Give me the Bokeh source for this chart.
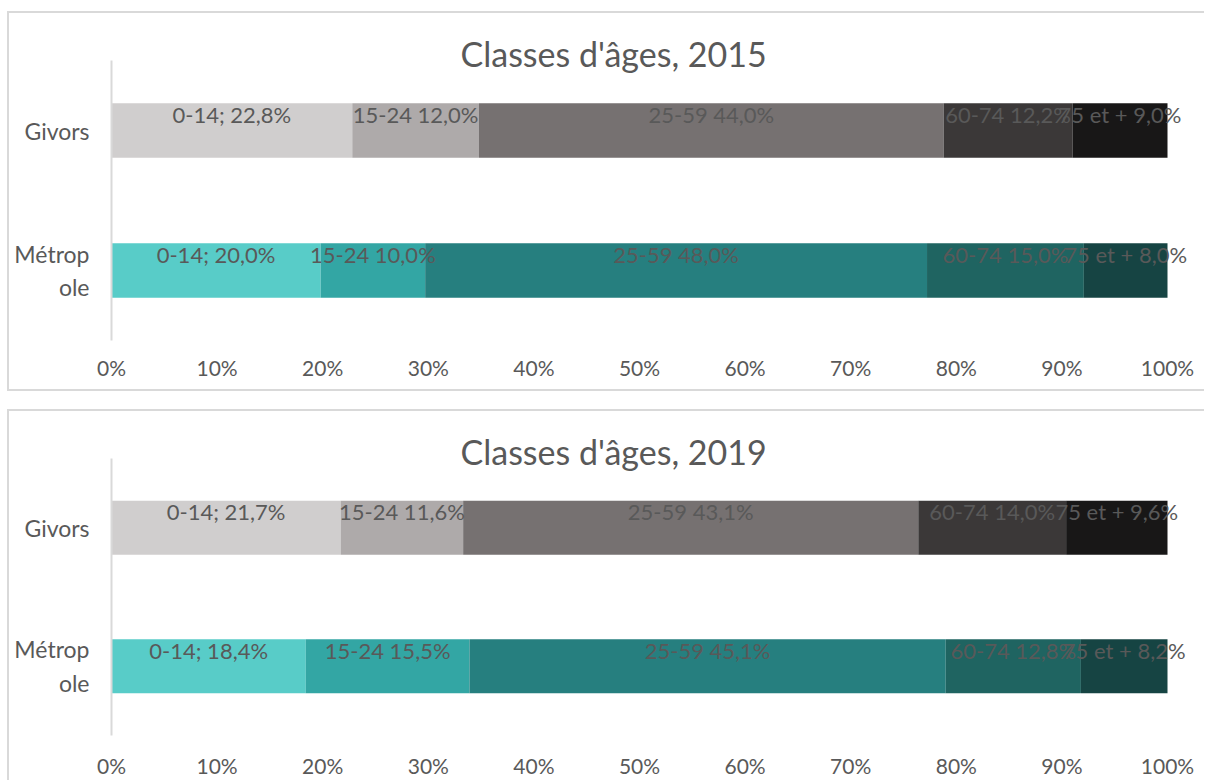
from bokeh.plotting import figure
from bokeh.models import (ColumnDataSource, FactorRange, Range1d, FixedTicker,
                          NumeralTickFormatter, CustomJSTickFormatter)
from bokeh.layouts import column
from bokeh.core.properties import value
from bokeh.embed import file_html
from bokeh.resources import INLINE

# ---------------- data ----------------
categories = ["Givors", "Métropole"]
age_classes = ["0-14", "15-24", "25-59", "60-74", "75 et +"]

givors_2015 = [22.8, 12.0, 44.0, 12.2, 9.0]
metropole_2015 = [20.0, 10.0, 48.0, 15.0, 8.0]
givors_2019 = [21.7, 11.6, 43.1, 14.0, 9.6]
metropole_2019 = [18.4, 15.5, 45.1, 12.8, 8.2]

x_ticks = [0.0, 0.1, 0.2, 0.3, 0.4, 0.5, 0.6, 0.7, 0.8, 0.9, 1.0]

givors_colors = ["#D0CECE", "#AEAAAA", "#767171", "#3B3838", "#181717"]
metropole_colors = ["#58CCC8", "#33A6A4", "#267F7F", "#1F6461", "#164443"]

FONT = "Lato"
TXT = "#595959"
BC = "#d9d9d9"
# panel frame drawn outside the figure box: left, top (and bottom for the first panel)
STYLE_TOP_PANEL = {"overflow": "hidden",
                   "box-shadow": f"-2px 0 0 0 {BC}, 0 -2px 0 0 {BC}, -2px -2px 0 0 {BC}, "
                                 f"0 2px 0 0 {BC}, -2px 2px 0 0 {BC}"}
STYLE_BOTTOM_PANEL = {"overflow": "hidden",
                      "box-shadow": f"-2px 0 0 0 {BC}, 0 -2px 0 0 {BC}, -2px -2px 0 0 {BC}"}

# layout geometry (pixels)
FIG_WIDTH = 1195
FRAME_LEFT_PAD = 102      # from the panel's left edge to the plot frame
FRAME_RIGHT_PAD = 6
X_END = 1087 / 1056       # leaves room right of 100 % so end labels are not clipped


def fmt_label(i, cls, v):
    s = f"{v:.1f}%".replace(".", ",")
    return f"{cls}; {s}" if i == 0 else f"{cls} {s}"


def build_source(series_by_cat, colors_by_cat):
    d = dict(cat=[], left=[], right=[], mid=[], color=[], label=[])
    for cat, vals, cols in zip(categories, series_by_cat, colors_by_cat):
        total = sum(vals)
        acc = 0.0
        for i, (cls, v, c) in enumerate(zip(age_classes, vals, cols)):
            l = acc / total
            acc += v
            r = acc / total
            d["cat"].append(cat)
            d["left"].append(l)
            d["right"].append(r)
            d["mid"].append((l + r) / 2)
            d["color"].append(c)
            d["label"].append(fmt_label(i, cls, v))
    return ColumnDataSource(d)


def make_panel(year, givors, metro, height, top, bottom, x_standoff, title_standoff, styles):
    p = figure(
        width=FIG_WIDTH, height=height,
        y_range=FactorRange(factors=categories[::-1], range_padding=0),
        x_range=Range1d(0, X_END),
        output_backend="svg", toolbar_location=None,
        min_border_left=FRAME_LEFT_PAD, min_border_right=FRAME_RIGHT_PAD,
        min_border_top=top, min_border_bottom=bottom,
        title=f"Classes d'âges, {year}",
    )
    p.styles = styles
    p.outline_line_color = None
    p.grid.visible = False
    p.background_fill_color = "white"
    p.border_fill_color = "white"

    p.title.text_font = FONT
    p.title.text_font_size = "34px"
    p.title.text_font_style = "normal"
    p.title.text_color = TXT
    p.title.align = "left"
    p.title.offset = 349
    p.title.standoff = title_standoff

    src = build_source([givors, metro], [givors_colors, metropole_colors])
    p.hbar(y="cat", left="left", right="right", height=0.39, color="color",
           line_color=None, source=src)
    p.text(x="mid", y="cat", text="label", source=src, text_align="center",
           text_baseline="middle", y_offset=-16, text_font=value(FONT),
           text_font_size="22px", text_color=TXT)

    xa = p.xaxis[0]
    xa.ticker = FixedTicker(ticks=x_ticks)
    xa.formatter = NumeralTickFormatter(format="0%")
    xa.axis_line_color = None
    xa.major_tick_line_color = None
    xa.minor_tick_line_color = None
    xa.major_tick_out = 0
    xa.major_tick_in = 0
    xa.major_label_standoff = x_standoff
    xa.major_label_text_font = FONT
    xa.major_label_text_font_size = "21px"
    xa.major_label_text_color = TXT

    ya = p.yaxis[0]
    ya.axis_line_color = BC
    ya.axis_line_width = 2
    ya.major_tick_line_color = None
    ya.minor_tick_line_color = None
    ya.major_tick_out = 0
    ya.major_tick_in = 0
    ya.major_label_standoff = 22
    ya.major_label_text_font = FONT
    ya.major_label_text_font_size = "23px"
    ya.major_label_text_color = TXT
    ya.formatter = CustomJSTickFormatter(
        code='return tick == "Métropole" ? "Métrop\\nole" : tick;')
    return p


p1 = make_panel(2015, givors_2015, metropole_2015, 376, 47, 49, 14, -26, STYLE_TOP_PANEL)
p2 = make_panel(2019, givors_2019, metropole_2019, 369, 47, 44, 17, -27, STYLE_BOTTOM_PANEL)

layout = column(p1, p2, spacing=22, margin=(13, 0, 0, 9))
open("out.html", "w").write(file_html(layout, INLINE))
